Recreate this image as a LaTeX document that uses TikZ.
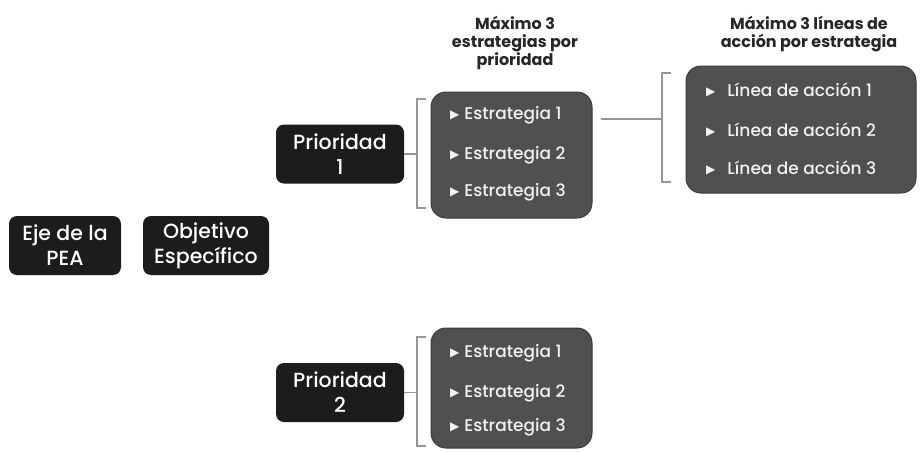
\documentclass[tikz,border=0pt]{standalone}
\usepackage{fontspec}
\setmainfont{Poppins}
\newfontfamily\medf{Poppins Medium}
\newfontfamily\symf{DejaVu Sans}
\usetikzlibrary{positioning,calc}
\definecolor{boxdark}{RGB}{28,28,28}
\definecolor{boxgray}{RGB}{80,80,80}
\definecolor{brgray}{RGB}{150,150,150}
\newcommand{\tri}{\raisebox{1.2pt}{\symf\fontsize{12}{12}\selectfont\char"25B6}}

\begin{document}
\begin{tikzpicture}[x=1pt, y=-1pt,
  dk/.style={rectangle, rounded corners=8pt, fill=boxdark, text=white, align=center,
             font=\medf\fontsize{20.5}{25}\selectfont, inner sep=0pt},
  gr/.style={rectangle, rounded corners=15pt, fill=boxgray, draw=boxgray!75!black,
             line width=1pt, inner sep=0pt},
  it/.style={anchor=west, text=white!95!black, inner sep=0pt, font=\medf\fontsize{17}{18}\selectfont},
  hd/.style={align=center, text=black!85, font=\bfseries\fontsize{16}{18}\selectfont},
  br/.style={draw=brgray, line width=1.2pt}]

\useasboundingbox (0,0) rectangle (920,451);

\node[dk, minimum width=112pt, minimum height=59pt] (eje) at (65,245.5) {Eje de la\\PEA};
\node[dk, minimum width=126pt, minimum height=59pt] (obj) at (206,245.5) {Objetivo\\Específico};
\node[dk, minimum width=128pt, minimum height=59pt] (p1) at (340,154) {Prioridad\\1};
\node[dk, minimum width=128pt, minimum height=59pt] (p2) at (340,392.5) {Prioridad\\2};

\node[gr, minimum width=161pt, minimum height=126pt] (ebox1) at (511.5,155) {};
\node[gr, minimum width=161pt, minimum height=120pt] (ebox2) at (511.5,388) {};
\node[gr, minimum width=230pt, minimum height=127pt] (lbox) at (801,129.5) {};

\node[hd] (hd1) at (515,43) {Máximo 3\\estrategias por\\prioridad};
\node[hd] (hd2) at (809,34) {Máximo 3 líneas de\\acción por estrategia};

\foreach \i/\y in {1/115,2/155,3/192}
  \node[it] (ea\i) at (450,\y) {\tri\hspace{5pt}Estrategia \i};
\foreach \i/\y in {1/353,2/393,3/427}
  \node[it] (eb\i) at (450,\y) {\tri\hspace{5pt}Estrategia \i};
\foreach \i/\y in {1/90,2/130,3/168}
  \node[it] (la\i) at (706,\y) {\tri\hspace{12pt}Línea de acción \i};

\coordinate (b1) at (417,154);
\coordinate (b2) at (417,392.5);
\coordinate (b3) at (662,119);
\draw[br] (426,99) -| (b1) |- (426,208);
\draw[br] (426,337) -| (b2) |- (426,446);
\draw[br] (671,73) -| (b3) |- (671,182);
\draw[br] (p1) -- (b1);
\draw[br] (p2) -- (b2);
\draw[br] ($(ebox1.east |- b3)+(8,0)$) -- (b3);
\end{tikzpicture}
\end{document}
